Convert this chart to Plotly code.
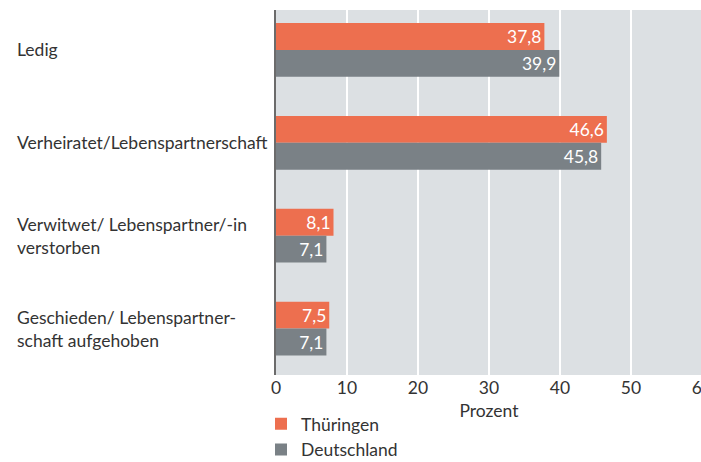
import plotly.graph_objects as go

categories = ["Ledig", "Verheiratet/Lebenspartnerschaft",
              "Verwitwet/ Lebenspartner/-in<br>verstorben",
              "Geschieden/ Lebenspartner-<br>schaft aufgehoben"]
thueringen = [37.8, 46.6, 8.1, 7.5]
deutschland = [39.9, 45.8, 7.1, 7.1]
x_ticks = [0, 10, 20, 30, 40, 50, 60]

FONT = "Lato"
FS = 17.5
W, H = 712, 462
L, R, T, B = 276, 10, 10, 87
pw = W - L - R
ph = H - T - B

fig = go.Figure()
fig.add_trace(go.Bar(y=list(range(len(categories))), x=thueringen, name="Thüringen",
                     orientation="h", marker=dict(color="#ED6F4F", line=dict(width=0)),
                     texttemplate="%{x:.1f}", textposition="inside", insidetextanchor="end",
                     textfont=dict(color="white", size=FS, family=FONT)))
fig.add_trace(go.Bar(y=list(range(len(categories))), x=deutschland, name="Deutschland",
                     orientation="h", marker=dict(color="#7A8186", line=dict(width=0)),
                     texttemplate="%{x:.1f}", textposition="inside", insidetextanchor="end",
                     textfont=dict(color="white", size=FS, family=FONT)))

for i, c in enumerate(categories):
    fig.add_annotation(text=c, xref="paper", yref="y", x=(15 - L) / pw, y=i,
                       xanchor="left", yanchor="middle", align="left", showarrow=False,
                       font=dict(size=FS, color="#333333", family=FONT))

fig.update_layout(
    width=W, height=H, margin=dict(l=L, r=R, t=T, b=B, autoexpand=False),
    paper_bgcolor="white", plot_bgcolor="#DCE0E3",
    barmode="group", bargap=0.42, bargroupgap=0,
    separators=",.",
    font=dict(family=FONT, size=FS, color="#333333"),
    showlegend=True,
    legend=dict(orientation="v", x=-15 / pw, xanchor="left", y=-0.09 + 2 / ph, yanchor="top",
                font=dict(size=FS, color="#333333", family=FONT),
                bgcolor="rgba(0,0,0,0)", itemclick=False, tracegroupgap=0),
    xaxis=dict(range=[0, 60], tickvals=x_ticks, showgrid=True, gridcolor="white",
               gridwidth=2, zeroline=False, showline=False, ticks="", automargin=False,
               ticklabeloverflow="allow",
               title=dict(text="Prozent", standoff=8, font=dict(size=FS)),
               tickfont=dict(size=FS, color="#333333")),
    yaxis=dict(range=[3.5, -0.43], showticklabels=False, showgrid=False, zeroline=False,
               automargin=False,
               showline=True, linecolor="#6B6B6B", linewidth=2, ticks=""),
)

fig.write_html("out.html", config={"displayModeBar": False},
               post_script="document.body.style.margin='0';document.body.style.overflow='hidden';")
